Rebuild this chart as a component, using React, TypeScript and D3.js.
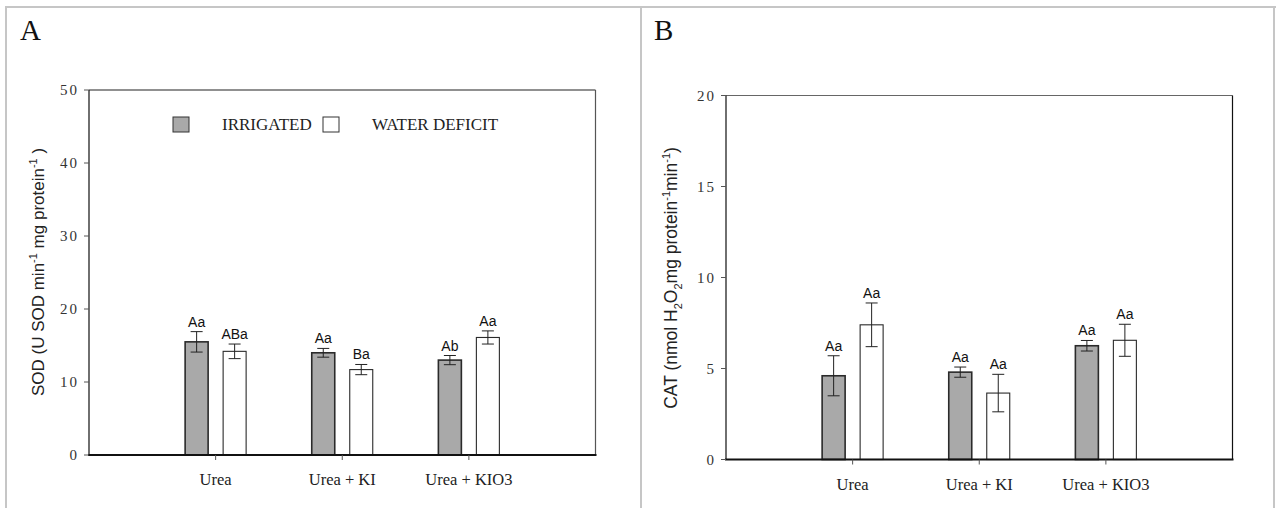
import React, { useEffect, useRef } from 'react'
import * as d3 from 'd3'

// data
const categories = ['Urea', 'Urea + KI', 'Urea + KIO3']
const groups = ['IRRIGATED', 'WATER DEFICIT']

const sodIrrigated = [15.5, 14.0, 13.0]
const sodIrrigatedErr = [1.4, 0.6, 0.63]
const sodDeficit = [14.2, 11.7, 16.1]
const sodDeficitErr = [1.0, 0.7, 0.9]
const sodIrrigatedLetters = ['Aa', 'Aa', 'Ab']
const sodDeficitLetters = ['ABa', 'Ba', 'Aa']
const sodTicks = [0, 10, 20, 30, 40, 50]

const catIrrigated = [4.6, 4.8, 6.25]
const catIrrigatedErr = [1.1, 0.28, 0.29]
const catDeficit = [7.4, 3.65, 6.55]
const catDeficitErr = [1.2, 1.03, 0.88]
const catIrrigatedLetters = ['Aa', 'Aa', 'Aa']
const catDeficitLetters = ['Aa', 'Aa', 'Aa']
const catTicks = [0, 5, 10, 15, 20]

const SERIF = '"Liberation Serif", "Times New Roman", serif'
const SANS = '"Liberation Sans", Arial, sans-serif'
const GRAY = '#a9a9a9'

function drawPanel(svg, opt) {
  const { x0, x1, yTop, yBottom, ymax, ticks, irr, irrErr, def, defErr, irrL, defL, frameTop, frameRight } = opt

  const x = d3.scalePoint().domain(categories).range([x0, x1]).padding(1)
  const sub = d3.scaleBand().domain(groups).range([-30.5, 30.5]).paddingInner(15 / 38)
  const y = d3.scaleLinear().domain([0, ymax]).range([yBottom, yTop])

  const g = svg.append('g')

  // frame
  g.append('line').attr('x1', x0).attr('x2', x1).attr('y1', yTop).attr('y2', yTop)
    .attr('stroke', frameTop).attr('stroke-width', 1.2)
  g.append('line').attr('x1', x1).attr('x2', x1).attr('y1', yTop).attr('y2', yBottom)
    .attr('stroke', frameRight).attr('stroke-width', 1.2)

  // bars
  const rows = categories.map((c, i) => [
    { c, k: groups[0], v: irr[i], e: irrErr[i], l: irrL[i] },
    { c, k: groups[1], v: def[i], e: defErr[i], l: defL[i] }
  ]).flat()

  g.selectAll('.bar').data(rows).enter().append('rect')
    .attr('x', (d) => x(d.c) + sub(d.k))
    .attr('y', (d) => y(d.v))
    .attr('width', sub.bandwidth())
    .attr('height', (d) => yBottom - y(d.v))
    .attr('fill', (d) => (d.k === groups[0] ? GRAY : '#fff'))
    .attr('stroke', '#2a2a2a')
    .attr('stroke-width', (d) => (d.k === groups[0] ? 1.6 : 1.1))

  // error bars
  const cx = (d) => x(d.c) + sub(d.k) + sub.bandwidth() / 2
  g.selectAll('.err').data(rows).enter().append('line')
    .attr('x1', cx).attr('x2', cx)
    .attr('y1', (d) => y(d.v + d.e)).attr('y2', (d) => y(d.v - d.e))
    .attr('stroke', '#222').attr('stroke-width', 1)
  g.selectAll('.capT').data(rows).enter().append('line')
    .attr('x1', (d) => cx(d) - 6).attr('x2', (d) => cx(d) + 6)
    .attr('y1', (d) => y(d.v + d.e)).attr('y2', (d) => y(d.v + d.e))
    .attr('stroke', '#222').attr('stroke-width', 1)
  g.selectAll('.capB').data(rows).enter().append('line')
    .attr('x1', (d) => cx(d) - 6).attr('x2', (d) => cx(d) + 6)
    .attr('y1', (d) => y(d.v - d.e)).attr('y2', (d) => y(d.v - d.e))
    .attr('stroke', '#222').attr('stroke-width', 1)

  // letters
  g.selectAll('.lbl').data(rows).enter().append('text')
    .attr('x', cx).attr('y', (d) => y(d.v + d.e) - 5)
    .attr('text-anchor', 'middle')
    .style('font-family', SANS).style('font-size', '14px').attr('fill', '#111')
    .text((d) => d.l)

  // axes
  g.append('line').attr('x1', x0).attr('x2', x0).attr('y1', yTop).attr('y2', yBottom)
    .attr('stroke', '#222').attr('stroke-width', 1.3)
  g.append('line').attr('x1', x0 - 1).attr('x2', x1 + 1).attr('y1', yBottom).attr('y2', yBottom)
    .attr('stroke', '#111').attr('stroke-width', 1.8)

  g.selectAll('.yt').data(ticks).enter().append('line')
    .attr('x1', x0 - 5).attr('x2', x0).attr('y1', (d) => y(d)).attr('y2', (d) => y(d))
    .attr('stroke', '#555').attr('stroke-width', 1)
  g.selectAll('.ytl').data(ticks).enter().append('text')
    .attr('x', x0 - 10).attr('y', (d) => y(d) + 5)
    .attr('text-anchor', 'end')
    .style('font-family', SERIF).style('font-size', '15px').style('letter-spacing', '2px')
    .attr('fill', '#333')
    .text((d) => d)

  g.selectAll('.xt').data(categories).enter().append('line')
    .attr('x1', (d) => x(d)).attr('x2', (d) => x(d))
    .attr('y1', yBottom).attr('y2', yBottom + 5)
    .attr('stroke', '#555').attr('stroke-width', 1)
  g.selectAll('.xtl').data(categories).enter().append('text')
    .attr('x', (d) => x(d)).attr('y', yBottom + 30)
    .attr('text-anchor', 'middle')
    .style('font-family', SERIF).style('font-size', '16.5px').attr('fill', '#222')
    .text((d) => d)

  return g
}

const App = () => {
  const ref = useRef(null)

  useEffect(() => {
    const svg = d3.select(ref.current)
    svg.selectAll('*').remove()

    // table borders
    const border = '#c6c6c6'
    svg.append('line').attr('x1', 5).attr('x2', 1276).attr('y1', 7).attr('y2', 7)
      .attr('stroke', border).attr('stroke-width', 2)
    ;[6, 641, 1274].forEach((bx) => {
      svg.append('line').attr('x1', bx).attr('x2', bx).attr('y1', 6).attr('y2', 508)
        .attr('stroke', border).attr('stroke-width', 2)
    })

    // panel letters
    svg.append('text').text('A').attr('x', 20).attr('y', 40)
      .style('font-family', SERIF).style('font-size', '29px').attr('fill', '#111')
    svg.append('text').text('B').attr('x', 654).attr('y', 40)
      .style('font-family', SERIF).style('font-size', '29px').attr('fill', '#111')

    // panel A
    drawPanel(svg, {
      x0: 89, x1: 595.5, yTop: 90, yBottom: 455, ymax: 50, ticks: sodTicks,
      irr: sodIrrigated, irrErr: sodIrrigatedErr, def: sodDeficit, defErr: sodDeficitErr,
      irrL: sodIrrigatedLetters, defL: sodDeficitLetters, frameTop: '#222', frameRight: '#555'
    })

    // legend
    svg.append('rect').attr('x', 173).attr('y', 117).attr('width', 16).attr('height', 15)
      .attr('fill', GRAY).attr('stroke', '#333').attr('stroke-width', 1)
    svg.append('text').text('IRRIGATED').attr('x', 222).attr('y', 130)
      .style('font-family', SERIF).style('font-size', '17px').attr('fill', '#222')
    svg.append('rect').attr('x', 323).attr('y', 117).attr('width', 16).attr('height', 15)
      .attr('fill', '#fff').attr('stroke', '#333').attr('stroke-width', 1)
    svg.append('text').text('WATER DEFICIT').attr('x', 372).attr('y', 130)
      .style('font-family', SERIF).style('font-size', '17px').attr('fill', '#222')

    // y label A
    const la = svg.append('text')
      .attr('transform', 'translate(44,272) rotate(-90)')
      .attr('text-anchor', 'middle')
      .style('font-family', SANS).style('font-size', '17px').attr('fill', '#222')
    la.append('tspan').text('SOD (U SOD  min')
    la.append('tspan').text('-1').attr('dy', -7).style('font-size', '11px')
    la.append('tspan').text(' mg protein').attr('dy', 7)
    la.append('tspan').text('-1').attr('dy', -7).style('font-size', '11px')
    la.append('tspan').text(' )').attr('dy', 7)

    // panel B
    drawPanel(svg, {
      x0: 726, x1: 1232.5, yTop: 95.5, yBottom: 459.5, ymax: 20, ticks: catTicks,
      irr: catIrrigated, irrErr: catIrrigatedErr, def: catDeficit, defErr: catDeficitErr,
      irrL: catIrrigatedLetters, defL: catDeficitLetters, frameTop: '#666', frameRight: '#111'
    })

    // y label B
    const lb = svg.append('text')
      .attr('transform', 'translate(677,278) rotate(-90)')
      .attr('text-anchor', 'middle')
      .style('font-family', SANS).style('font-size', '17.5px').attr('fill', '#222')
    lb.append('tspan').text('CAT (nmol H')
    lb.append('tspan').text('2').attr('dy', 5).style('font-size', '11px')
    lb.append('tspan').text('O').attr('dy', -5)
    lb.append('tspan').text('2').attr('dy', 5).style('font-size', '11px')
    lb.append('tspan').text('mg protein').attr('dy', -5)
    lb.append('tspan').text('-1').attr('dy', -7).style('font-size', '11px')
    lb.append('tspan').text('min').attr('dy', 7)
    lb.append('tspan').text('-1').attr('dy', -7).style('font-size', '11px')
    lb.append('tspan').text(')').attr('dy', 7)
  }, [])

  return (
    <svg
      ref={ref}
      width={1278}
      height={508}
      style={{ position: 'absolute', left: 0, top: 0, background: '#fff' }}
    />
  )
}

export default App
